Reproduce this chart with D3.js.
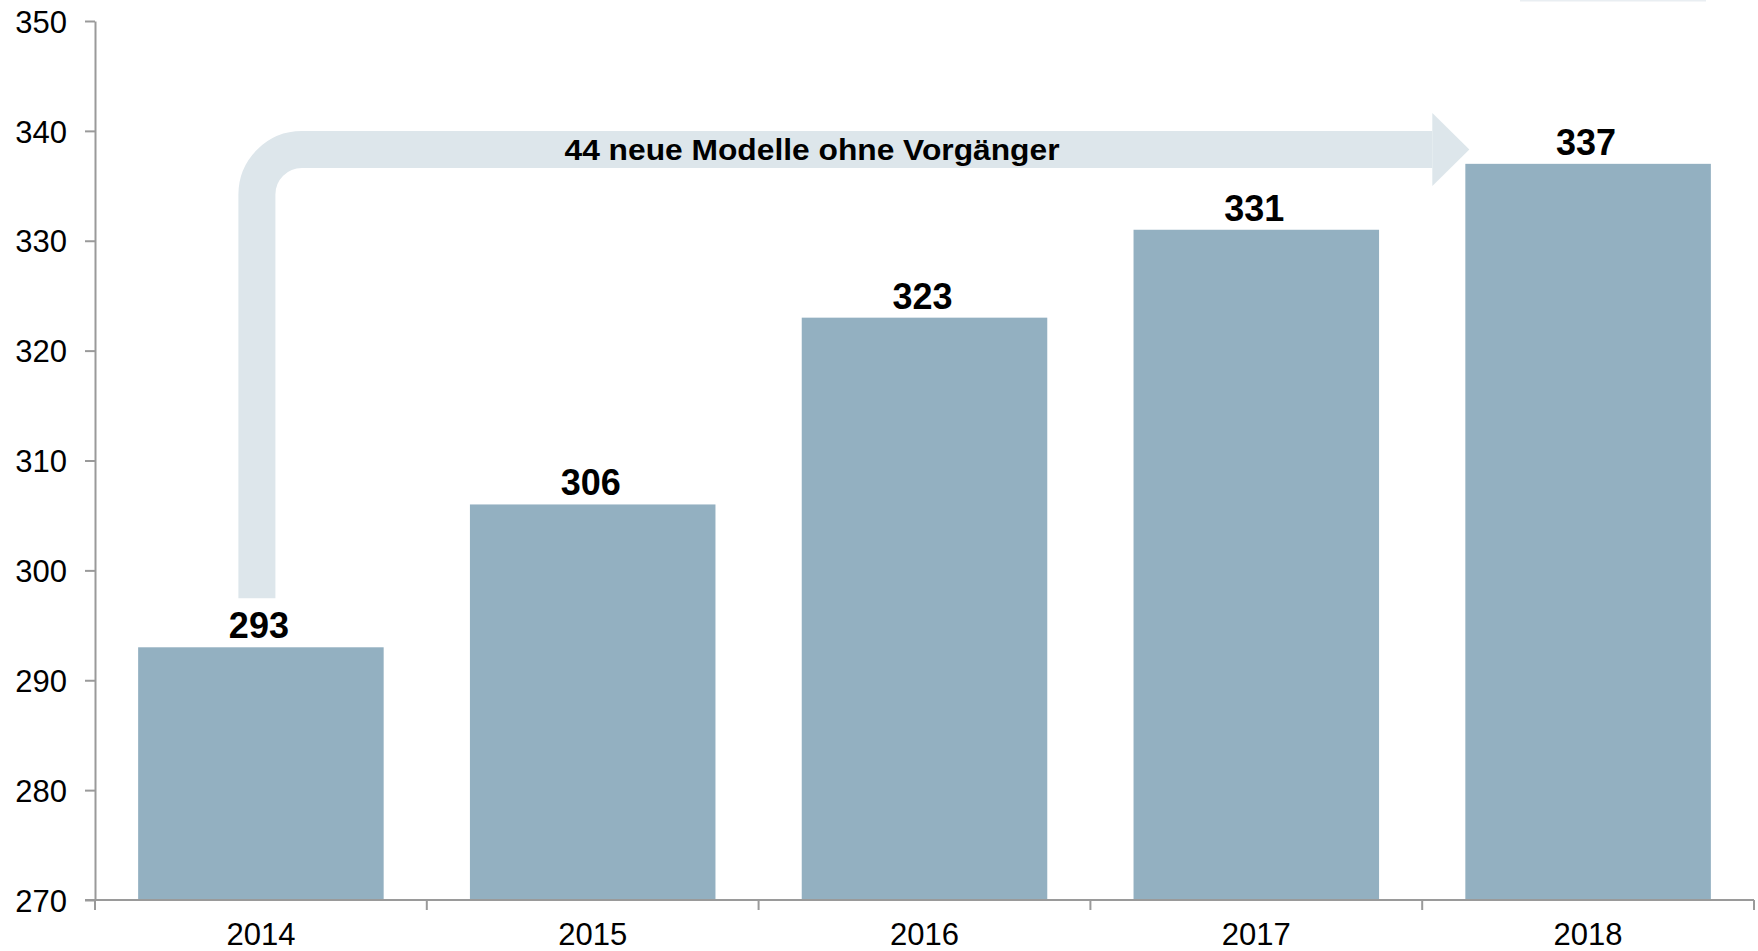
<!DOCTYPE html>
<html>
<head>
<meta charset="utf-8">
<script src="https://cdn.jsdelivr.net/npm/d3@7"></script>
<style>
  body { margin: 0; background: #fff; }
  svg { display: block; font-family: "Liberation Sans", Arial, sans-serif; }
  .axis path, .axis line { stroke: #9a9a9a; stroke-width: 2; }
  .axis text { font-size: 31px; fill: #000; }
  .bar-label { font-size: 36px; font-weight: bold; fill: #000; text-anchor: middle; }
  .arrow-label { font-size: 29px; font-weight: bold; fill: #000; text-anchor: middle; }
</style>
</head>
<body>
<div id="chart"></div>
<script>
var years = ["2014", "2015", "2016", "2017", "2018"];
var models = [293, 306, 323, 331, 337];
var yTicks = [270, 280, 290, 300, 310, 320, 330, 340, 350];
var arrowText = "44 neue Modelle ohne Vorgänger";

var W = 1758, H = 951;
var margin = {top: 21, right: 4, bottom: 51, left: 95};
var width = W - margin.left - margin.right,
    height = H - margin.top - margin.bottom;

var svg = d3.select("#chart").append("svg")
    .attr("width", W)
    .attr("height", H);

// faint strip at the top edge of the original
svg.append("rect")
    .attr("x", 1520).attr("y", 0)
    .attr("width", 186).attr("height", 1.5)
    .attr("fill", "#e9eef2");

var canvas = svg.append("g")
    .attr("transform", "translate(" + margin.left + "," + margin.top + ")");

var x = d3.scaleBand()
    .domain(years)
    .range([0, width])
    .paddingInner(0.26)
    .paddingOuter(0.13);

var y = d3.scaleLinear()
    .domain([270, 350])
    .range([height, 0]);

// arrow (drawn first, sits behind labels)
var ax = x("2014") + x.bandwidth() / 2 - 4,
    ay = y(338.3),
    r = 45,
    headBase = x("2018") - 33,
    headTip = headBase + 37,
    shaftW = 37;

var p = d3.path();
p.moveTo(ax, y(293) - 49);
p.lineTo(ax, ay + r);
p.arcTo(ax, ay, ax + r, ay, r);
p.lineTo(headBase, ay);

canvas.append("path")
    .attr("d", p.toString())
    .attr("fill", "none")
    .attr("stroke", "#dde6eb")
    .attr("stroke-width", shaftW);

canvas.append("path")
    .attr("d", "M" + headBase + "," + (ay - 36.5) + "L" + headTip + "," + ay + "L" + headBase + "," + (ay + 36.5) + "Z")
    .attr("fill", "#dde6eb");

canvas.append("text")
    .attr("class", "arrow-label")
    .attr("x", 717)
    .attr("y", ay + 10)
    .attr("textLength", 495)
    .attr("lengthAdjust", "spacingAndGlyphs")
    .text(arrowText);

// bars
canvas.selectAll("rect.bar")
    .data(years)
    .enter()
    .append("rect")
    .attr("class", "bar")
    .attr("x", function (d) { return x(d); })
    .attr("width", x.bandwidth())
    .attr("y", function (d, i) { return y(models[i]); })
    .attr("height", function (d, i) { return height - y(models[i]); })
    .attr("fill", "#93b0c1");

canvas.selectAll("text.bar-label")
    .data(years)
    .enter()
    .append("text")
    .attr("class", "bar-label")
    .attr("x", function (d) { return x(d) + x.bandwidth() / 2 - 2; })
    .attr("y", function (d, i) { return y(models[i]) - 9; })
    .text(function (d, i) { return models[i]; });

// y axis
var yAxis = canvas.append("g")
    .attr("class", "axis axis-y")
    .call(d3.axisLeft(y).tickValues(yTicks).tickSize(10).tickSizeOuter(0).tickPadding(18));
yAxis.selectAll("text").attr("dy", "0.36em");

// x axis: labels centred in bands, ticks at band boundaries
var xAxis = canvas.append("g")
    .attr("class", "axis axis-x")
    .attr("transform", "translate(0," + height + ")")
    .call(d3.axisBottom(x).tickSize(0).tickPadding(23).tickSizeOuter(0));
xAxis.select(".domain").remove();

xAxis.append("line")
    .attr("x1", -10).attr("x2", width)
    .attr("y1", 0).attr("y2", 0);

xAxis.selectAll("line.bound")
    .data(d3.range(years.length + 1))
    .enter()
    .append("line")
    .attr("class", "bound")
    .attr("x1", function (i) { return x.range()[0] + i * x.step(); })
    .attr("x2", function (i) { return x.range()[0] + i * x.step(); })
    .attr("y1", 0)
    .attr("y2", 10);
</script>
</body>
</html>
